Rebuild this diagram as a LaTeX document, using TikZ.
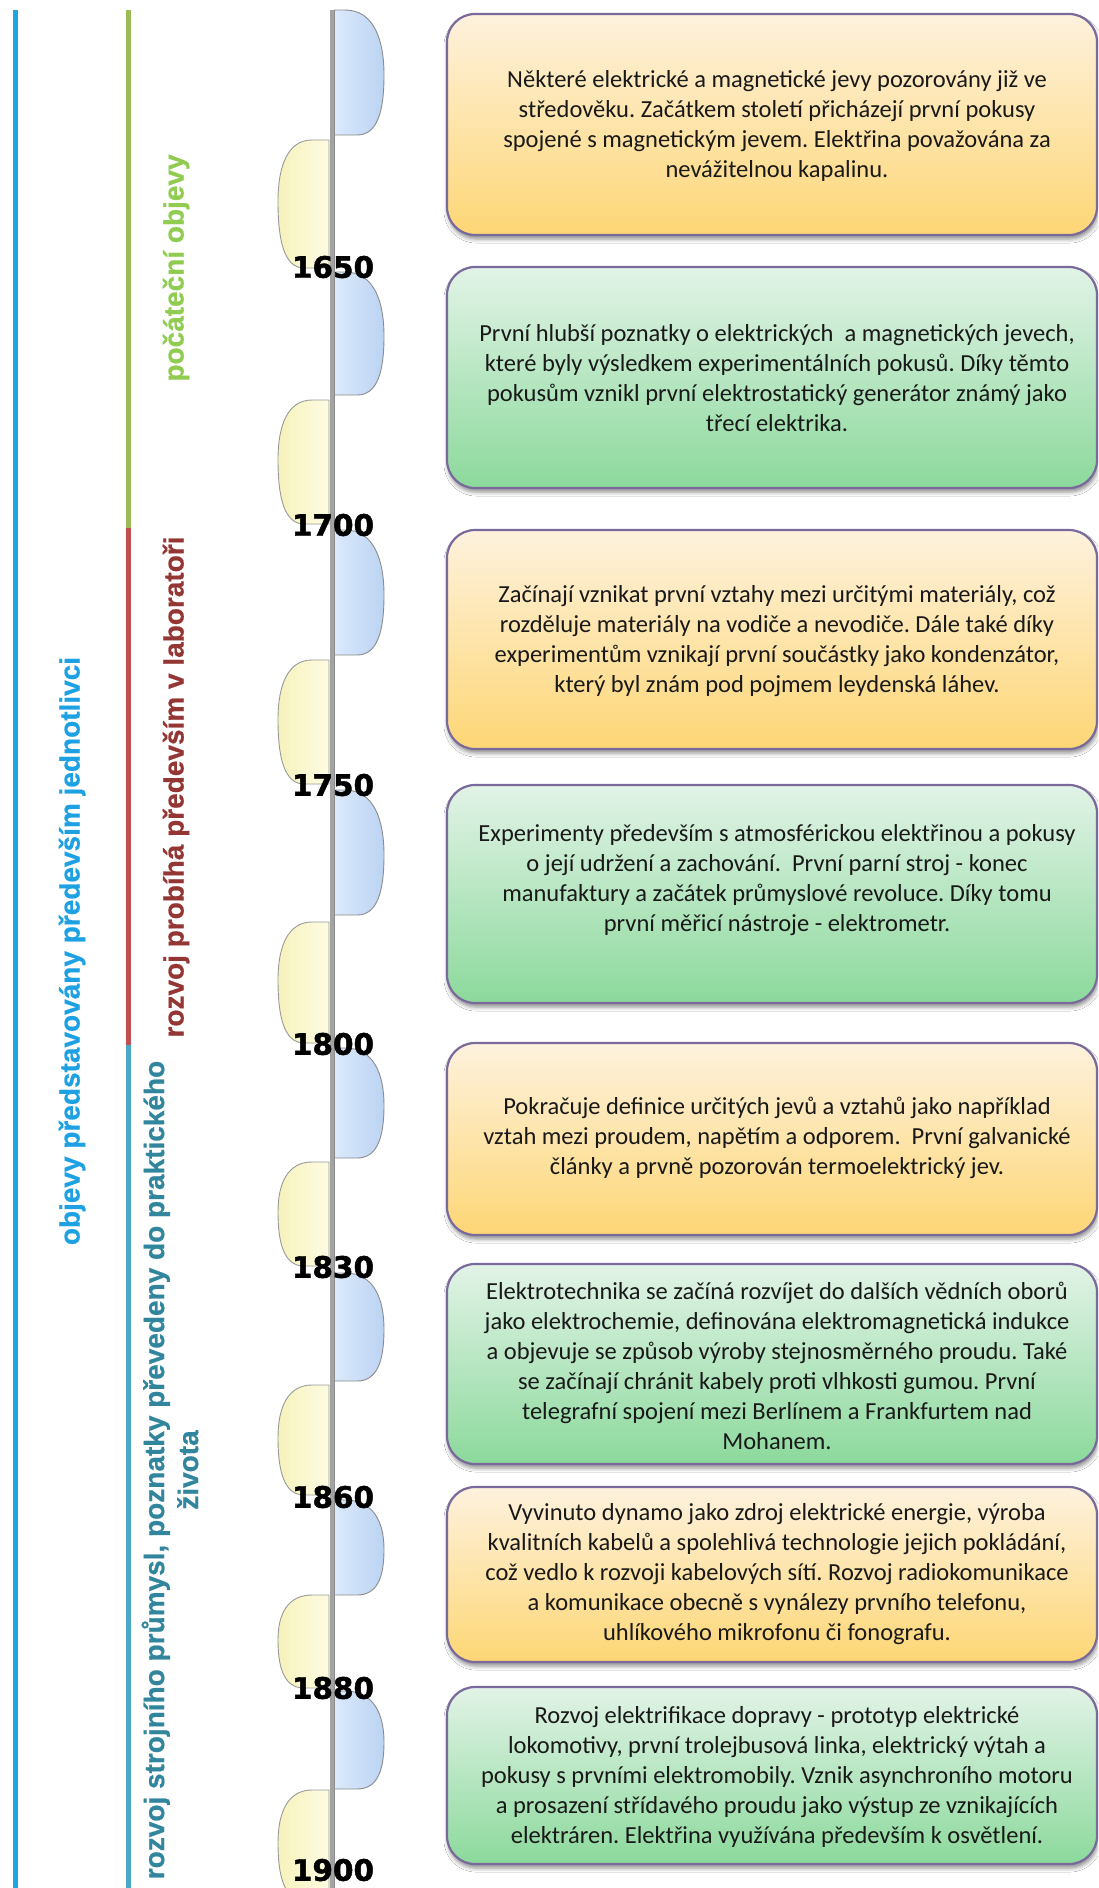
\documentclass[tikz,border=0pt]{standalone}
\usepackage{fontspec}
\setmainfont{Carlito}
\newfontfamily\labelfont[FakeBold=0.6]{Liberation Sans Bold}
\newfontfamily\yearfont[FakeBold=1.6]{DejaVu Sans Bold}
\usetikzlibrary{shadows.blur}
\frenchspacing

\definecolor{lineBlue}{HTML}{1CA5E0}
\definecolor{lineGreen}{HTML}{9BBB59}
\definecolor{lineRed}{HTML}{C0504D}
\definecolor{lineTeal}{HTML}{4BA8C4}
\definecolor{txtBlue}{HTML}{1DA1E2}
\definecolor{txtGreen}{HTML}{8FCC50}
\definecolor{txtRed}{HTML}{943634}
\definecolor{txtTeal}{HTML}{31859C}
\definecolor{axisGray}{HTML}{A3A3A3}
\definecolor{tabBlueL}{HTML}{DCEAFB}
\definecolor{tabBlueR}{HTML}{BBD3F3}
\definecolor{tabYelL}{HTML}{F6F2BC}
\definecolor{tabYelR}{HTML}{FDFCE2}
\definecolor{frame}{HTML}{7A6A9C}
\definecolor{orTop}{HTML}{FEF2DE}
\definecolor{orBot}{HTML}{FDD675}
\definecolor{grTop}{HTML}{E2F3E7}
\definecolor{grBot}{HTML}{8CD99C}

\begin{document}
\begin{tikzpicture}[x=1pt,y=-1pt,
  evbox/.style={draw=frame, line width=2.2pt, rounded corners=28pt,
    minimum width=650pt, inner sep=0pt,
    blur shadow={shadow xshift=1pt, shadow yshift=-4pt,
      shadow blur radius=4pt, shadow opacity=45}},
  orbox/.style={evbox, top color=orTop, bottom color=orBot},
  grbox/.style={evbox, top color=grTop, bottom color=grBot},
  evtext/.style={align=center, text=black!90,
    font=\fontsize{24.5}{30}\selectfont},
  yearlbl/.style={font=\yearfont\fontsize{29.5}{30}\selectfont, text=black, inner sep=0pt},
  eralbl/.style={rotate=90, align=center, inner sep=0pt,
    font=\labelfont\fontsize{28}{34}\selectfont},
  bluetab/.style={left color=tabBlueL, right color=tabBlueR,
    draw=black!45, line width=0.9pt},
  yeltab/.style={left color=tabYelL, right color=tabYelR,
    draw=black!40, line width=0.9pt}
]
\useasboundingbox (0,0) rectangle (1098,1888);
\clip (0,0) rectangle (1098,1888);
\fill[white] (0,0) rectangle (1098,1888);

% era bars on the left
\draw[line width=5pt, lineBlue] (15,10) -- (15,1888);
\draw[line width=5pt, lineGreen] (128,10) -- (128,528);
\draw[line width=5pt, lineRed] (128,528) -- (128,1045);
\draw[line width=5pt, lineTeal] (128,1045) -- (128,1888);

% era captions
\node[eralbl, text=txtBlue] (eraAll) at (72,951) {objevy představovány především jednotlivci};
\node[eralbl, text=txtGreen] (eraEarly) at (176,268) {počáteční objevy};
\node[eralbl, text=txtRed] (eraLab) at (176,787) {rozvoj probíhá především v laboratoři};
\node[eralbl, text=txtTeal] (eraIndustry) at (170,1470) {rozvoj strojního průmysl, poznatky převedeny do praktického\\života};

% tabs along the time axis
\foreach \t/\b in {10/135, 272/395, 530/655, 790/915, 1048/1158, 1273/1381, 1500/1595, 1691/1789} {
  \pgfmathsetmacro\h{\b-\t}
  \path[bluetab] (334,\t) -- (345,\t) .. controls (374,\t) and (384,\t+0.24*\h) .. (384,\t+0.52*\h)
    .. controls (384,\t+0.82*\h) and (377,\b) .. (357,\b) -- (334,\b) -- cycle;
}
\foreach \t/\b in {140/268, 400/524, 660/784, 922/1043, 1162/1266, 1385/1495, 1595/1688, 1790/1900} {
  \pgfmathsetmacro\h{\b-\t}
  \path[yeltab] (329,\t) -- (312,\t) .. controls (288,\t) and (278,\t+0.2*\h) .. (278,\t+0.48*\h)
    .. controls (278,\t+0.78*\h) and (284,\b) .. (304,\b) -- (329,\b) -- cycle;
}

% time axis
\draw[line width=5pt, axisGray] (332,10) -- (332,1888);
\draw[line width=1pt, black!45] (334.5,10) -- (334.5,1888);

% year marks
\node[yearlbl] (y1650) at (333,267) {1650};
\node[yearlbl] (y1700) at (333,525) {1700};
\node[yearlbl] (y1750) at (333,785) {1750};
\node[yearlbl] (y1800) at (333,1044) {1800};
\node[yearlbl] (y1830) at (333,1267) {1830};
\node[yearlbl] (y1860) at (333,1497) {1860};
\node[yearlbl] (y1880) at (333,1688) {1880};
\node[yearlbl] (y1900) at (333,1870) {1900};

% event boxes
\node[orbox, minimum height=221pt] (box1) at (772,124.5) {};
\node[grbox, minimum height=221pt] (box2) at (772,377.5) {};
\node[orbox, minimum height=219pt] (box3) at (772,639.5) {};
\node[grbox, minimum height=218pt] (box4) at (772,894) {};
\node[orbox, minimum height=192pt] (box5) at (772,1139) {};
\node[grbox, minimum height=200pt] (box6) at (772,1364) {};
\node[orbox, minimum height=175pt] (box7) at (772,1574.5) {};
\node[grbox, minimum height=177pt] (box8) at (772,1775.5) {};

\node[evtext] (txt1) at (777,126) {Některé elektrické a magnetické jevy pozorovány již ve\\středověku. Začátkem století přicházejí první pokusy\\spojené s magnetickým jevem. Elektřina považována za\\nevážitelnou kapalinu.};
\node[evtext] (txt2) at (777,378) {První hlubší poznatky o elektrických\ \ a magnetických jevech,\\které byly výsledkem experimentálních pokusů. Díky těmto\\pokusům vznikl první elektrostatický generátor známý jako\\třecí elektrika.};
\node[evtext] (txt3) at (777,641) {Začínají vznikat první vztahy mezi určitými materiály, což\\rozděluje materiály na vodiče a nevodiče. Dále také díky\\experimentům vznikají první součástky jako kondenzátor,\\který byl znám pod pojmem leydenská láhev.};
\node[evtext] (txt4) at (777,880) {Experimenty především s atmosférickou elektřinou a pokusy\\o její udržení a zachování.\ \ První parní stroj - konec\\manufaktury a začátek průmyslové revoluce. Díky tomu\\první měřicí nástroje - elektrometr.};
\node[evtext] (txt5) at (777,1138) {Pokračuje definice určitých jevů a vztahů jako například\\vztah mezi proudem, napětím a odporem.\ \ První galvanické\\články a prvně pozorován termoelektrický jev.};
\node[evtext] (txt6) at (777,1366) {Elektrotechnika se začíná rozvíjet do dalších vědních oborů\\jako elektrochemie, definována elektromagnetická indukce\\a objevuje se způsob výroby stejnosměrného proudu. Také\\se začínají chránit kabely proti vlhkosti gumou. První\\telegrafní spojení mezi Berlínem a Frankfurtem nad\\Mohanem.};
\node[evtext] (txt7) at (777,1574) {Vyvinuto dynamo jako zdroj elektrické energie, výroba\\kvalitních kabelů a spolehlivá technologie jejich pokládání,\\což vedlo k rozvoji kabelových sítí. Rozvoj radiokomunikace\\a komunikace obecně s vynálezy prvního telefonu,\\uhlíkového mikrofonu či fonografu.};
\node[evtext] (txt8) at (777,1777) {Rozvoj elektrifikace dopravy - prototyp elektrické\\lokomotivy, první trolejbusová linka, elektrický výtah a\\pokusy s prvními elektromobily. Vznik asynchroního motoru\\a prosazení střídavého proudu jako výstup ze vznikajících\\elektráren. Elektřina využívána především k osvětlení.};
\end{tikzpicture}
\end{document}
